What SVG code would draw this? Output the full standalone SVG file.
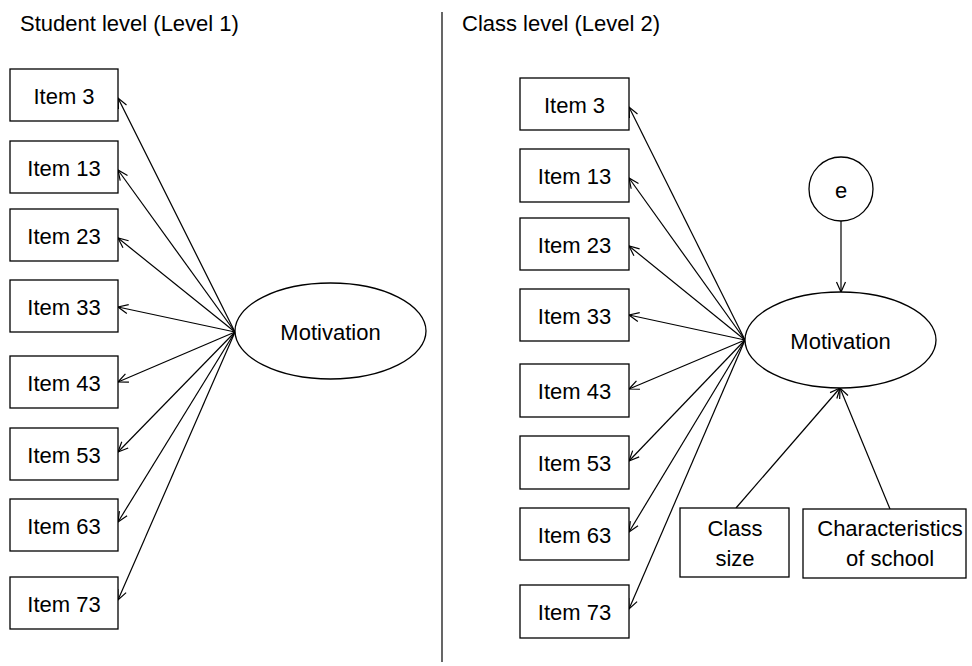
<svg xmlns="http://www.w3.org/2000/svg" width="972" height="666" viewBox="0 0 972 666">
<defs>
<style>
text{font-family:"Liberation Sans",Arial,sans-serif;font-size:22px;fill:#000;text-anchor:middle}
.t{text-anchor:start}
.box{fill:#fff;stroke:#000;stroke-width:1.3}
.lat{fill:#fff;stroke:#000;stroke-width:1.3}
.c line{stroke:#000;stroke-width:1.2;marker-end:url(#ah)}
</style>
<marker id="ah" markerUnits="userSpaceOnUse" markerWidth="12" markerHeight="12" refX="10" refY="5" orient="auto" overflow="visible">
<path d="M0,0.5 L10,5 L0,9.5" fill="none" stroke="#000" stroke-width="1.2"/>
</marker>
</defs>
<rect width="972" height="666" fill="#fff"/>
<text class="t" x="20" y="31">Student level (Level 1)</text>
<text class="t" x="462" y="31">Class level (Level 2)</text>
<line x1="442" y1="12" x2="442" y2="662" stroke="#000" stroke-width="1.2"/>
<g class="c" id="connectors">
<line x1="235" y1="332" x2="118" y2="98"/>
<line x1="235" y1="332" x2="118" y2="170"/>
<line x1="235" y1="332" x2="118" y2="238"/>
<line x1="235" y1="332" x2="118" y2="307"/>
<line x1="235" y1="332" x2="118" y2="382"/>
<line x1="235" y1="332" x2="118" y2="452"/>
<line x1="235" y1="332" x2="118" y2="522"/>
<line x1="235" y1="332" x2="118" y2="600"/>
<line x1="745" y1="340" x2="629" y2="107"/>
<line x1="745" y1="340" x2="629" y2="178"/>
<line x1="745" y1="340" x2="629" y2="246"/>
<line x1="745" y1="340" x2="629" y2="315"/>
<line x1="745" y1="340" x2="629" y2="389"/>
<line x1="745" y1="340" x2="629" y2="461"/>
<line x1="745" y1="340" x2="629" y2="532"/>
<line x1="745" y1="340" x2="629" y2="609"/>
<line x1="841" y1="221" x2="841" y2="292"/>
<line x1="736" y1="508" x2="840" y2="388"/>
<line x1="890" y1="509" x2="840" y2="388"/>
</g>
<g id="l1-item3"><rect class="box" x="10" y="69" width="108" height="52"/><text x="64" y="104">Item 3</text></g>
<g id="l1-item13"><rect class="box" x="10" y="141" width="108" height="52"/><text x="64" y="176">Item 13</text></g>
<g id="l1-item23"><rect class="box" x="10" y="209" width="108" height="52"/><text x="64" y="244">Item 23</text></g>
<g id="l1-item33"><rect class="box" x="10" y="280" width="108" height="52"/><text x="64" y="315">Item 33</text></g>
<g id="l1-item43"><rect class="box" x="10" y="356" width="108" height="52"/><text x="64" y="391">Item 43</text></g>
<g id="l1-item53"><rect class="box" x="10" y="428" width="108" height="52"/><text x="64" y="463">Item 53</text></g>
<g id="l1-item63"><rect class="box" x="10" y="499" width="108" height="52"/><text x="64" y="534">Item 63</text></g>
<g id="l1-item73"><rect class="box" x="10" y="577" width="108" height="52"/><text x="64" y="612">Item 73</text></g>
<g id="l1-motivation"><ellipse class="lat" cx="330.5" cy="331" rx="95.5" ry="48"/><text x="330.5" y="340">Motivation</text></g>
<g id="l2-item3"><rect class="box" x="520" y="78" width="109" height="52"/><text x="574.5" y="113">Item 3</text></g>
<g id="l2-item13"><rect class="box" x="520" y="149" width="109" height="53"/><text x="574.5" y="184">Item 13</text></g>
<g id="l2-item23"><rect class="box" x="520" y="218" width="109" height="52"/><text x="574.5" y="253">Item 23</text></g>
<g id="l2-item33"><rect class="box" x="520" y="289" width="109" height="52"/><text x="574.5" y="324">Item 33</text></g>
<g id="l2-item43"><rect class="box" x="520" y="364" width="109" height="53"/><text x="574.5" y="399">Item 43</text></g>
<g id="l2-item53"><rect class="box" x="520" y="436" width="109" height="53"/><text x="574.5" y="471">Item 53</text></g>
<g id="l2-item63"><rect class="box" x="520" y="508" width="109" height="52"/><text x="574.5" y="543">Item 63</text></g>
<g id="l2-item73"><rect class="box" x="520" y="585" width="109" height="53"/><text x="574.5" y="620">Item 73</text></g>
<g id="l2-e"><circle class="lat" cx="841" cy="189" r="32"/><text x="841" y="198">e</text></g>
<g id="l2-motivation"><ellipse class="lat" cx="840.5" cy="340" rx="95.5" ry="48"/><text x="840.5" y="349">Motivation</text></g>
<g id="l2-classsize"><rect class="box" x="680" y="508" width="109" height="69"/><text x="735" y="536">Class</text><text x="735" y="566">size</text></g>
<g id="l2-school"><rect class="box" x="803" y="509" width="163" height="69"/><text x="890" y="536">Characteristics</text><text x="890" y="566">of school</text></g>
</svg>
